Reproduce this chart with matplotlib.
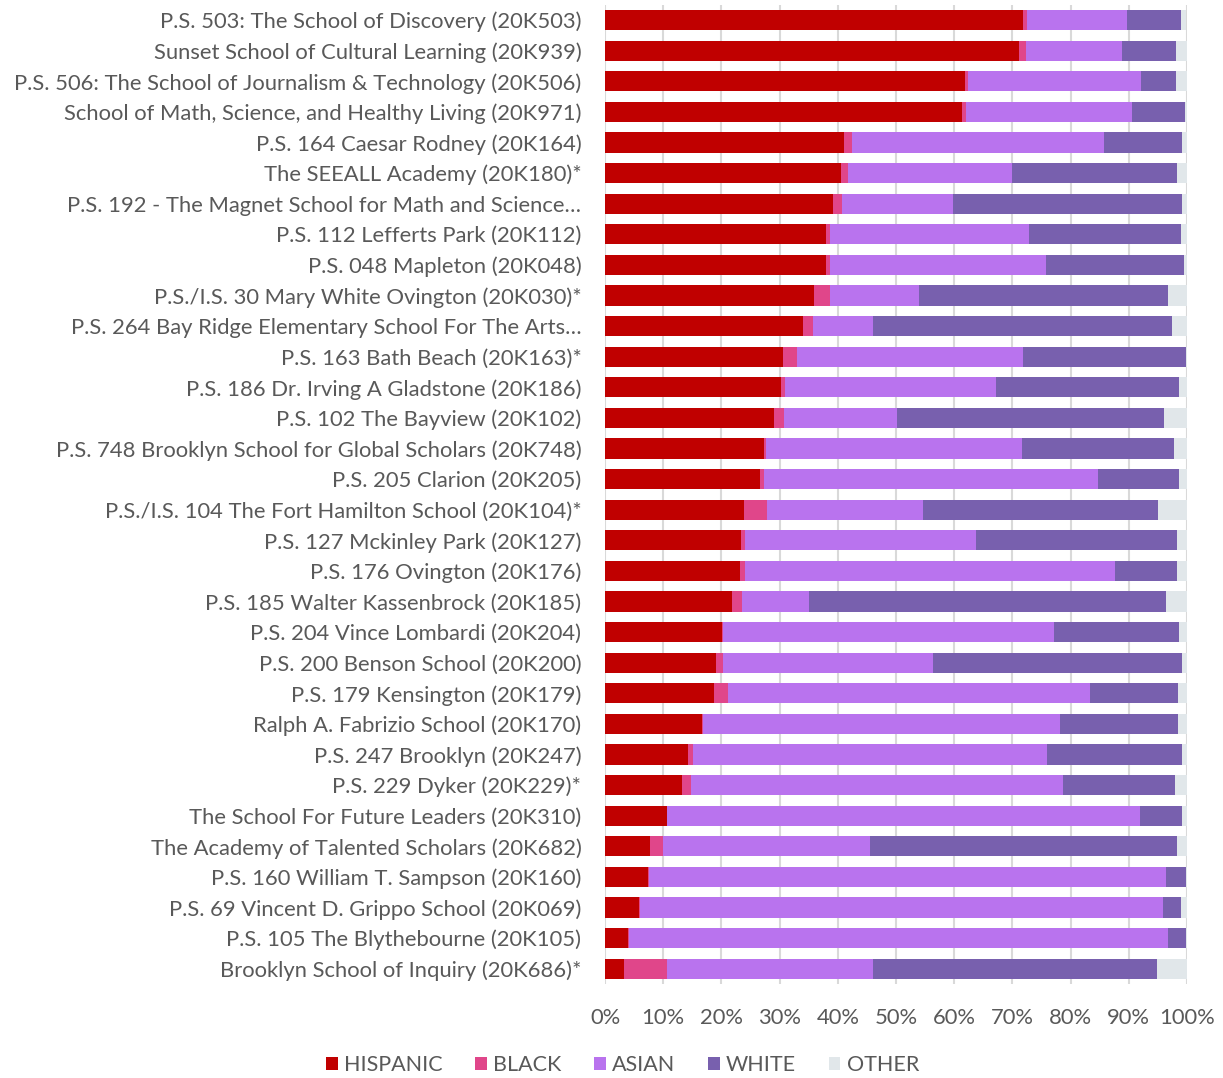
import numpy as np
import matplotlib
matplotlib.use('Agg')
import matplotlib.pyplot as plt
from matplotlib.ticker import FuncFormatter

# DATA (percent of students)
schools = [
    'P.S. 503: The School of Discovery (20K503)',
    'Sunset School of Cultural Learning (20K939)',
    'P.S. 506: The School of Journalism & Technology (20K506)',
    'School of Math, Science, and Healthy Living (20K971)',
    'P.S. 164 Caesar Rodney (20K164)',
    'The SEEALL Academy (20K180)*',
    'P.S. 192 - The Magnet School for Math and Science\u2026',
    'P.S. 112 Lefferts Park (20K112)',
    'P.S. 048 Mapleton (20K048)',
    'P.S./I.S. 30 Mary White Ovington (20K030)*',
    'P.S. 264 Bay Ridge Elementary School For The Arts\u2026',
    'P.S. 163 Bath Beach (20K163)*',
    'P.S. 186 Dr. Irving A Gladstone (20K186)',
    'P.S. 102 The Bayview (20K102)',
    'P.S. 748 Brooklyn School for Global Scholars (20K748)',
    'P.S. 205 Clarion (20K205)',
    'P.S./I.S. 104 The Fort Hamilton School (20K104)*',
    'P.S. 127 Mckinley Park (20K127)',
    'P.S. 176 Ovington (20K176)',
    'P.S. 185 Walter Kassenbrock (20K185)',
    'P.S. 204 Vince Lombardi (20K204)',
    'P.S. 200 Benson School (20K200)',
    'P.S. 179 Kensington (20K179)',
    'Ralph A. Fabrizio School (20K170)',
    'P.S. 247 Brooklyn (20K247)',
    'P.S. 229 Dyker (20K229)*',
    'The School For Future Leaders (20K310)',
    'The Academy of Talented Scholars (20K682)',
    'P.S. 160 William T. Sampson (20K160)',
    'P.S. 69 Vincent D. Grippo School (20K069)',
    'P.S. 105 The Blythebourne (20K105)',
    'Brooklyn School of Inquiry (20K686)*',
]

hispanic = [71.9, 71.1, 61.8, 61.4, 41.0, 40.5, 39.2, 37.9, 37.9, 35.9, 34.1,
            30.6, 30.2, 29.1, 27.4, 26.7, 23.8, 23.4, 23.2, 21.8, 20.1, 19.0,
            18.8, 16.6, 14.2, 13.3, 10.6, 7.7, 7.4, 5.8, 4.0, 3.2]
black = [0.6, 1.3, 0.5, 0.6, 1.5, 1.2, 1.5, 0.7, 0.7, 2.7, 1.6,
         2.3, 0.8, 1.7, 0.3, 0.6, 4.0, 0.7, 0.9, 1.8, 0.2, 1.3,
         2.4, 0.3, 0.9, 1.5, 0.1, 2.3, 0.1, 0.2, 0.1, 7.4]
asian = [17.1, 16.4, 29.8, 28.6, 43.3, 28.3, 19.1, 34.2, 37.1, 15.3, 10.3,
         39.0, 36.1, 19.4, 43.9, 57.4, 26.8, 39.7, 63.6, 11.4, 56.9, 36.1,
         62.1, 61.2, 60.9, 63.9, 81.3, 35.6, 88.8, 89.9, 92.6, 35.4]
white = [9.4, 9.3, 6.0, 9.0, 13.3, 28.3, 39.3, 26.1, 23.7, 42.8, 51.4,
         27.9, 31.6, 45.8, 26.1, 14.0, 40.4, 34.5, 10.6, 61.3, 21.5, 42.7,
         15.1, 20.3, 23.2, 19.3, 7.2, 52.6, 3.5, 3.0, 3.1, 48.8]
other = [0.9, 1.9, 1.9, 0.4, 0.9, 1.7, 0.9, 1.1, 0.6, 3.3, 2.6,
         0.2, 1.3, 4.0, 2.4, 1.3, 5.0, 1.7, 1.7, 3.7, 1.3, 0.9,
         1.6, 1.6, 0.9, 2.0, 0.9, 1.8, 0.2, 1.1, 0.2, 5.2]

groups = ['HISPANIC', 'BLACK', 'ASIAN', 'WHITE', 'OTHER']
colors = ['#C00000', '#E0468A', '#B973EE', '#7860AE', '#E1E7EA']
text_color = '#595959'

plt.rcParams['font.family'] = ['Lato', 'DejaVu Sans']

fig = plt.figure(figsize=(12.23, 10.78), dpi=100)
ax = fig.add_axes([0.4947, 0.0872, 0.4759, 0.9084])

y = np.arange(len(schools))
left = np.zeros(len(schools))
for name, vals, col in zip(groups, [hispanic, black, asian, white, other], colors):
    vals = np.array(vals)
    ax.barh(y, vals, left=left, height=0.66, color=col, label=name, zorder=3)
    left += vals

ax.set_ylim(len(schools) - 0.5, -0.5)
ax.set_xlim(0, 100)
ax.set_xticks(np.arange(0, 101, 10))
ax.xaxis.set_major_formatter(FuncFormatter(lambda v, p: '%d%%' % v))
ax.set_yticks(y)
ax.set_yticklabels(schools)

# light vertical gridlines behind the bars
ax.grid(axis='x', color='#D9D9D9', linewidth=1.5, zorder=0)
for s in ['top', 'right', 'bottom', 'left']:
    ax.spines[s].set_visible(False)
ax.tick_params(axis='both', length=0, labelsize=15.8, labelcolor=text_color)
ax.tick_params(axis='y', pad=17)
ax.tick_params(axis='x', pad=17)

leg = fig.legend(loc='center', bbox_to_anchor=(0.509, 0.012), ncol=5, frameon=False,
                 fontsize=15.5, handlelength=0.55, handleheight=0.55, handletextpad=0.3,
                 columnspacing=1.5)
for t in leg.get_texts():
    t.set_color(text_color)

plt.savefig('out.png', dpi=100)
